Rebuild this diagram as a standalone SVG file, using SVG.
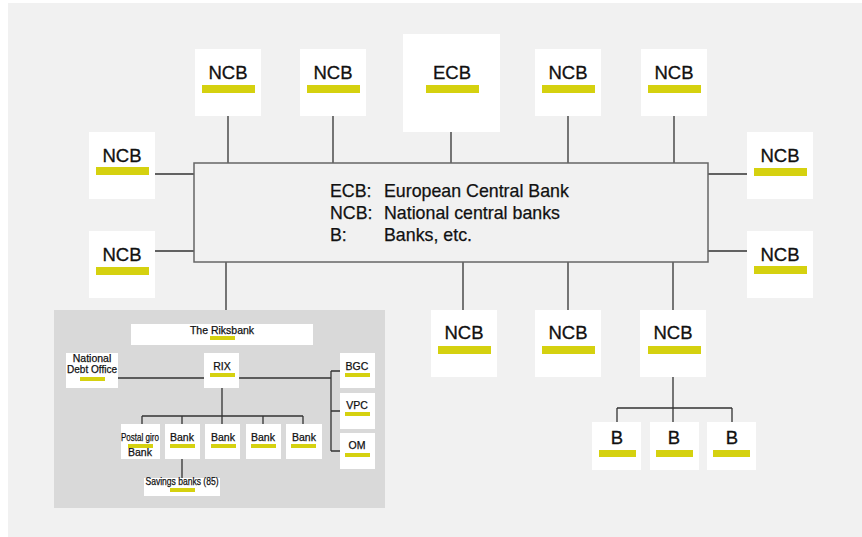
<svg xmlns="http://www.w3.org/2000/svg" width="862" height="537" viewBox="0 0 862 537">
<style>
.bg{fill:#f1f1f1}
.box{fill:#fff}
.bar{fill:#d5d10f}
.lbl{font-family:"Liberation Sans",Arial,sans-serif;font-size:18.5px;fill:#111;stroke:#111;stroke-width:0.3;text-anchor:middle}
.leg{font-family:"Liberation Sans",Arial,sans-serif;font-size:17.8px;fill:#111;stroke:#111;stroke-width:0.25}
.sm{font-family:"Liberation Sans",Arial,sans-serif;font-size:10.5px;fill:#111;stroke:#111;stroke-width:0.25;text-anchor:middle}
.ln{stroke:#333;stroke-width:1.3;fill:none}
</style>
<rect x="0" y="0" width="862" height="537" fill="#fff"/>
<rect class="bg" x="8" y="3" width="854" height="534"/>
<rect x="54" y="310" width="331" height="198" fill="#d9d9d9"/>

<g id="connectors" class="ln">
<path d="M228 116V163M333 116V163M451 132V163M568 116V163M674 116V163"/>
<path d="M155 174H194M155 251H194M708 174H747M708 251H747"/>
<path d="M226 262V310M463 262V310M568 262V310M673 262V310"/>
<path d="M673 377V408M617 408H732M617 408V422M673 408V422M732 408V422"/>
<path d="M118 378H204M239 378H331M331 371V451M331 371H340M331 411H340M331 451H340"/>
<path d="M222 388V416M142 416H303M142 416V424M182 416V424M222 416V424M263 416V424M303 416V424M182 459V478"/>
</g>

<g id="legend">
<rect x="194" y="163" width="514" height="99" fill="#f1f1f1" stroke="#666" stroke-width="1.5"/>
<text class="leg" x="330" y="197">ECB:</text><text class="leg" x="384" y="197">European Central Bank</text>
<text class="leg" x="330" y="219">NCB:</text><text class="leg" x="384" y="219">National central banks</text>
<text class="leg" x="330" y="241">B:</text><text class="leg" x="384" y="241">Banks, etc.</text>
</g>

<g id="ecb"><rect class="box" x="403" y="34" width="97" height="98"/><text class="lbl" x="452" y="79">ECB</text><rect class="bar" x="426" y="85" width="53" height="8"/></g>
<g id="ncb-top-1"><rect class="box" x="195" y="49" width="66" height="67"/><text class="lbl" x="228" y="79">NCB</text><rect class="bar" x="202" y="85" width="53" height="8"/></g>
<g id="ncb-top-2"><rect class="box" x="300" y="49" width="66" height="67"/><text class="lbl" x="333" y="79">NCB</text><rect class="bar" x="307" y="85" width="53" height="8"/></g>
<g id="ncb-top-3"><rect class="box" x="535" y="49" width="66" height="67"/><text class="lbl" x="568" y="79">NCB</text><rect class="bar" x="542" y="85" width="53" height="8"/></g>
<g id="ncb-top-4"><rect class="box" x="641" y="49" width="66" height="67"/><text class="lbl" x="674" y="79">NCB</text><rect class="bar" x="648" y="85" width="53" height="8"/></g>
<g id="ncb-left-1"><rect class="box" x="89" y="132" width="66" height="67"/><text class="lbl" x="122" y="162">NCB</text><rect class="bar" x="96" y="167" width="53" height="8"/></g>
<g id="ncb-left-2"><rect class="box" x="89" y="231" width="66" height="67"/><text class="lbl" x="122" y="261">NCB</text><rect class="bar" x="96" y="267" width="53" height="8"/></g>
<g id="ncb-right-1"><rect class="box" x="747" y="132" width="66" height="67"/><text class="lbl" x="780" y="162">NCB</text><rect class="bar" x="754" y="168" width="53" height="8"/></g>
<g id="ncb-right-2"><rect class="box" x="747" y="231" width="66" height="67"/><text class="lbl" x="780" y="261">NCB</text><rect class="bar" x="754" y="266" width="53" height="8"/></g>
<g id="ncb-bottom-1"><rect class="box" x="431" y="310" width="66" height="67"/><text class="lbl" x="464" y="339">NCB</text><rect class="bar" x="438" y="346" width="53" height="8"/></g>
<g id="ncb-bottom-2"><rect class="box" x="535" y="310" width="66" height="67"/><text class="lbl" x="568" y="339">NCB</text><rect class="bar" x="542" y="346" width="53" height="8"/></g>
<g id="ncb-bottom-3"><rect class="box" x="640" y="310" width="66" height="67"/><text class="lbl" x="673" y="339">NCB</text><rect class="bar" x="648" y="346" width="53" height="8"/></g>

<g id="b-1"><rect class="box" x="592" y="422" width="49" height="48"/><text class="lbl" x="617" y="444">B</text><rect class="bar" x="599" y="450" width="37" height="7"/></g>
<g id="b-2"><rect class="box" x="650" y="422" width="49" height="48"/><text class="lbl" x="674" y="444">B</text><rect class="bar" x="656" y="450" width="37" height="7"/></g>
<g id="b-3"><rect class="box" x="707" y="422" width="49" height="48"/><text class="lbl" x="732" y="444">B</text><rect class="bar" x="713" y="450" width="37" height="7"/></g>

<g id="riksbank"><rect class="box" x="131" y="324" width="182" height="21"/><text class="sm" x="222" y="334">The Riksbank</text><rect class="bar" x="210" y="336" width="25" height="4"/></g>
<g id="ndo"><rect class="box" x="66" y="353" width="52" height="35"/><text class="sm" x="92" y="362">National</text><text class="sm" x="92" y="373" textLength="50" lengthAdjust="spacingAndGlyphs">Debt Office</text><rect class="bar" x="80" y="377" width="25" height="4"/></g>
<g id="rix"><rect class="box" x="204" y="353" width="35" height="35"/><text class="sm" x="222" y="370">RIX</text><rect class="bar" x="210" y="373" width="25" height="4"/></g>
<g id="bgc"><rect class="box" x="340" y="353" width="35" height="35"/><text class="sm" x="357" y="370">BGC</text><rect class="bar" x="345" y="373" width="25" height="4"/></g>
<g id="vpc"><rect class="box" x="340" y="393" width="35" height="36"/><text class="sm" x="357" y="409">VPC</text><rect class="bar" x="345" y="412" width="25" height="4"/></g>
<g id="om"><rect class="box" x="340" y="433" width="35" height="36"/><text class="sm" x="357" y="449">OM</text><rect class="bar" x="345" y="453" width="25" height="4"/></g>
<g id="postal-giro"><rect class="box" x="121" y="424" width="39" height="35"/><text class="sm" x="140" y="441" textLength="38" lengthAdjust="spacingAndGlyphs">Postal giro</text><rect class="bar" x="128" y="444" width="25" height="4"/><text class="sm" x="140" y="456">Bank</text></g>
<g id="bank-1"><rect class="box" x="165" y="424" width="35" height="35"/><text class="sm" x="182" y="441">Bank</text><rect class="bar" x="170" y="444" width="25" height="4"/></g>
<g id="bank-2"><rect class="box" x="205" y="424" width="35" height="35"/><text class="sm" x="223" y="441">Bank</text><rect class="bar" x="211" y="444" width="25" height="4"/></g>
<g id="bank-3"><rect class="box" x="246" y="424" width="35" height="35"/><text class="sm" x="263" y="441">Bank</text><rect class="bar" x="251" y="444" width="25" height="4"/></g>
<g id="bank-4"><rect class="box" x="286" y="424" width="36" height="35"/><text class="sm" x="304" y="441">Bank</text><rect class="bar" x="291" y="444" width="25" height="4"/></g>
<g id="savings"><rect class="box" x="144" y="478" width="76" height="18"/><text class="sm" x="182" y="485" textLength="73" lengthAdjust="spacingAndGlyphs">Savings banks (85)</text><rect class="bar" x="170" y="488" width="25" height="4"/></g>
</svg>
